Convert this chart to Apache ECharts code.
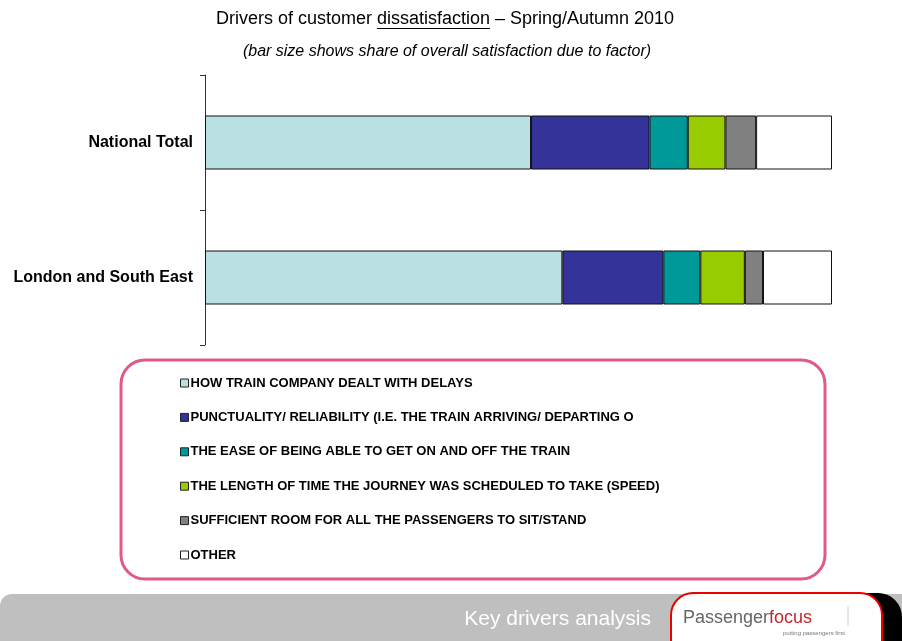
<!DOCTYPE html>
<html>
<head>
<meta charset="utf-8">
<script src="https://cdn.jsdelivr.net/npm/echarts@6/dist/echarts.min.js"></script>
<style>html,body{margin:0;padding:0;background:#fff;}#c{width:902px;height:641px;}</style>
</head>
<body>
<div id="c"></div>
<script>
var categories = ['National Total', 'London and South East'];
var seriesNames = [
  'HOW TRAIN COMPANY DEALT WITH DELAYS',
  'PUNCTUALITY/ RELIABILITY (I.E. THE TRAIN ARRIVING/ DEPARTING O',
  'THE EASE OF BEING ABLE TO GET ON AND OFF THE TRAIN',
  'THE LENGTH OF TIME THE JOURNEY WAS SCHEDULED TO TAKE (SPEED)',
  'SUFFICIENT ROOM FOR ALL THE PASSENGERS TO SIT/STAND',
  'OTHER'
];
var delaysValues = [52.0, 57.0];
var punctualityValues = [18.9, 16.1];
var easeValues = [6.1, 5.9];
var speedValues = [6.0, 7.1];
var roomValues = [4.9, 2.9];
var otherValues = [12.1, 11.0];
var seriesColors = ['#bbe0e3', '#333399', '#009999', '#99cc00', '#808080', '#ffffff'];
var seriesValues = [delaysValues, punctualityValues, easeValues, speedValues, roomValues, otherValues];

var titlePre = 'Drivers of customer ';
var titleWord = 'dissatisfaction';
var titlePost = ' \u2013 Spring/Autumn 2010';
var subtitle = '(bar size shows share of overall satisfaction due to factor)';

var FONT = '"Liberation Sans", Arial, sans-serif';
var titleSize = 18;
var mctx = document.createElement('canvas').getContext('2d');
mctx.font = titleSize + 'px ' + FONT;
var wFull = mctx.measureText(titlePre + titleWord + titlePost).width;
var wPre = mctx.measureText(titlePre).width;
var wWord = mctx.measureText(titleWord).width;
var titleCx = 445;
var ulX1 = titleCx - wFull / 2 + wPre;

var chart = echarts.init(document.getElementById('c'), null, {renderer: 'canvas'});
var series = seriesNames.map(function (n, i) {
  return {
    name: n,
    type: 'bar',
    stack: 'total',
    barWidth: 54,
    data: seriesValues[i],
    itemStyle: {color: seriesColors[i], borderColor: '#111', borderWidth: 1},
    emphasis: {disabled: true}
  };
});

var option = {
  animation: false,
  backgroundColor: '#fff',
  grid: {left: 205, right: 70, top: 75, bottom: 296, containLabel: false},
  xAxis: {type: 'value', min: 0, max: 100, show: false},
  yAxis: {
    type: 'category', data: categories, inverse: true,
    axisLine: {show: true, lineStyle: {color: '#333', width: 1}},
    axisTick: {show: true, length: 5, lineStyle: {color: '#333'}},
    axisLabel: {fontFamily: FONT, fontSize: 16, fontWeight: 'bold', color: '#000', margin: 12},
    splitLine: {show: false}
  },
  legend: {
    orient: 'vertical', left: 175, top: 371, itemWidth: 8, itemHeight: 8, itemGap: 20.4,
    icon: 'rect',
    selectedMode: false,
    itemStyle: {borderWidth: 1, borderColor: '#222'},
    textStyle: {fontFamily: FONT, fontSize: 13, lineHeight: 14, fontWeight: 'bold', color: '#000', padding: [0, 0, 0, -3]}
  },
  graphic: [
    {type: 'text', x: titleCx, y: 19, style: {text: titlePre + titleWord + titlePost, fill: '#000', font: titleSize + 'px ' + FONT, align: 'center', verticalAlign: 'middle'}},
    {type: 'line', shape: {x1: ulX1, y1: 28.5, x2: ulX1 + wWord, y2: 28.5}, style: {stroke: '#000', lineWidth: 1}},
    {type: 'text', x: 447, y: 52, style: {text: subtitle, fill: '#000', font: 'italic 16px ' + FONT, align: 'center', verticalAlign: 'middle'}},
    {type: 'rect', shape: {x: 121, y: 360, width: 704, height: 219, r: 24}, style: {fill: 'none', stroke: '#e05a82', lineWidth: 3}},
    {type: 'rect', shape: {x: 0, y: 594, width: 902, height: 60, r: [12, 0, 0, 0]}, style: {fill: '#bfbfbf'}},
    {type: 'rect', shape: {x: 840, y: 593, width: 62, height: 60, r: [0, 24, 0, 0]}, style: {fill: '#000'}},
    {type: 'rect', shape: {x: 671, y: 593, width: 211, height: 70, r: 22}, style: {fill: '#fff', stroke: '#ee0000', lineWidth: 2}},
    {type: 'text', x: 651, y: 619, style: {text: 'Key drivers analysis', fill: '#fff', font: '21px ' + FONT, align: 'right', verticalAlign: 'middle'}},
    {type: 'text', x: 683, y: 618, style: {
      text: '{a|Passenger}{b|focus}', verticalAlign: 'middle',
      rich: {a: {fill: '#666', fontFamily: 'Liberation Sans, Arial', fontSize: 18},
             b: {fill: '#c0282d', fontFamily: 'Liberation Sans, Arial', fontSize: 18}}
    }},
    {type: 'text', x: 845, y: 633, style: {text: 'putting passengers first', fill: '#777', font: '6px ' + FONT, align: 'right', verticalAlign: 'middle'}},
    {type: 'line', shape: {x1: 848, y1: 606, x2: 848, y2: 626}, style: {stroke: '#ccc', lineWidth: 1}}
  ],
  series: series
};
chart.setOption(option);
</script>
</body>
</html>
